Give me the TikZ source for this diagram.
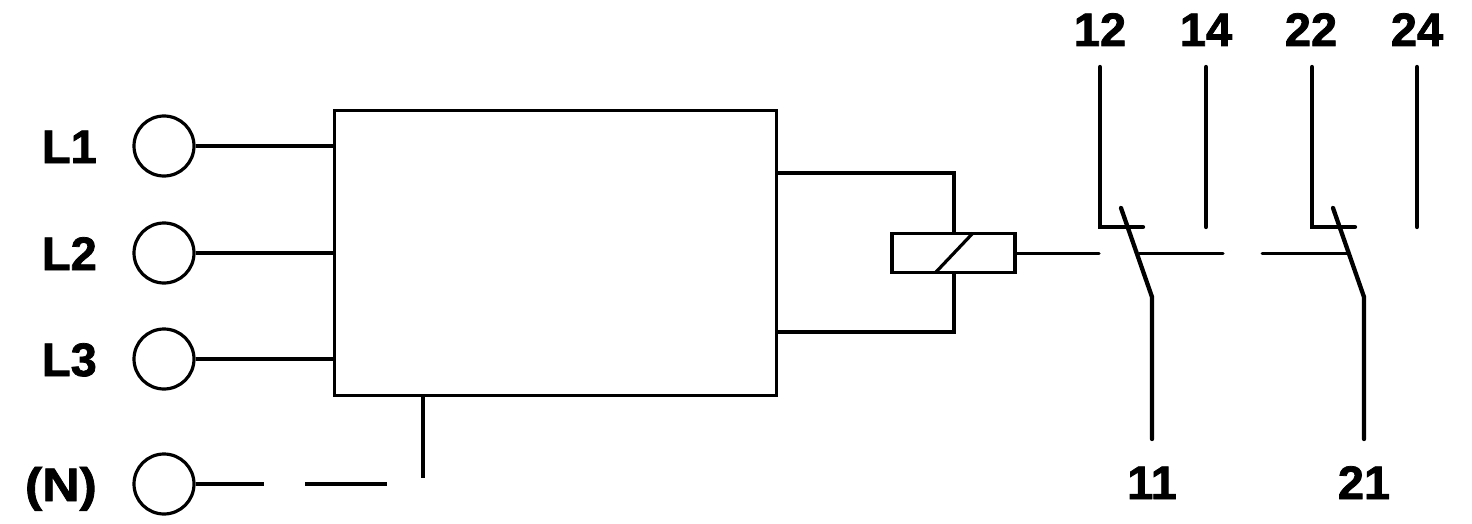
\documentclass[tikz,border=0pt]{standalone}
\usepackage{fontspec}
\setmainfont[BoldFeatures={FakeBold=1.6}]{Liberation Sans}
\begin{document}
\begin{tikzpicture}[x=1pt,y=-1pt,
 link/.style={line width=3pt,line cap=round},
 wire/.style={line width=4.3pt,line cap=round,line join=miter},
 term/.style={circle,draw,line width=3.2pt,minimum size=60pt,inner sep=0pt},
 lab/.style={font=\bfseries\fontsize{47}{47}\selectfont,inner sep=0pt,anchor=base},
 labe/.style={lab,anchor=base east},
 box/.style={draw,line width=3.4pt,inner sep=0pt}]
\useasboundingbox (0,0) rectangle (1472,524);
\node[box,minimum width=442pt,minimum height=285pt] (main) at (555.5,253) {};
\node[box,minimum width=123pt,minimum height=39pt] (coil) at (953.5,253) {};
\foreach \n/\y/\b/\t in {a/146/163/L1,b/253/270/L2,c/359/376/L3}{
 \node[term] (\n) at (164,\y) {};
 \node[labe] (t\n) at (97,\b) {\t};
}
\node[term] (d) at (164,484) {};
\node[labe,xscale=1.1] (td) at (97,501) {(N)};
\foreach \n/\x/\t in {n12/1100/12,n14/1206/14,n22/1311/22,n24/1417/24}
 \node[lab] (\n) at (\x,46) {\t};
\node[lab] (n11) at (1152,499) {11};
\node[lab] (n21) at (1364,499) {21};
\coordinate (ma) at (main.west |- a);
\coordinate (mb) at (main.west |- b);
\coordinate (mc) at (main.west |- c);
\draw[wire,line cap=butt] (a) -- (ma);
\draw[wire,line cap=butt] (b) -- (mb);
\draw[wire,line cap=butt] (c) -- (mc);
% dashed N
\coordinate (d1) at (264,484);
\coordinate (d2) at (305,484);
\coordinate (d3) at (387,484);
\draw[wire,line cap=butt] (d) -- (d1);
\draw[wire,line cap=butt] (d2) -- (d3);
\coordinate (nb) at (423,396);
\coordinate (ne) at (423,478);
\draw[wire,line cap=butt] (nb) -- (ne);
% coil feeds
\coordinate (c1) at (777,173);
\coordinate (c2) at (777,332);
\coordinate (ct) at (954,233);
\coordinate (cb) at (954,273);
\draw[wire,line cap=butt] (c1) -- (954,173) -- (ct);
\draw[wire,line cap=butt] (c2) -- (954,332) -- (cb);
\draw[line width=3.2pt] (936,272) -- (973,233);
% mechanical link
\coordinate (l1) at (1016,253);
\coordinate (l2) at (1099,253);
\coordinate (l3) at (1139,253);
\coordinate (l4) at (1223,253);
\coordinate (l5) at (1262,253);
\coordinate (l6) at (1347,253);
\draw[link] (l1)--(l2) (l3)--(l4) (l5)--(l6);
% contact 1
\draw[wire] (1100,67) -- (1100,227) -- (1143,227);
\draw[wire] (1206,67) -- (1206,227);
\draw[wire] (1121,208) -- (1152,297) -- (1152,439);
% contact 2
\draw[wire] (1312,67) -- (1312,227) -- (1355,227);
\draw[wire] (1417,67) -- (1417,227);
\draw[wire] (1333,208) -- (1364,297) -- (1364,439);
\end{tikzpicture}
\end{document}
